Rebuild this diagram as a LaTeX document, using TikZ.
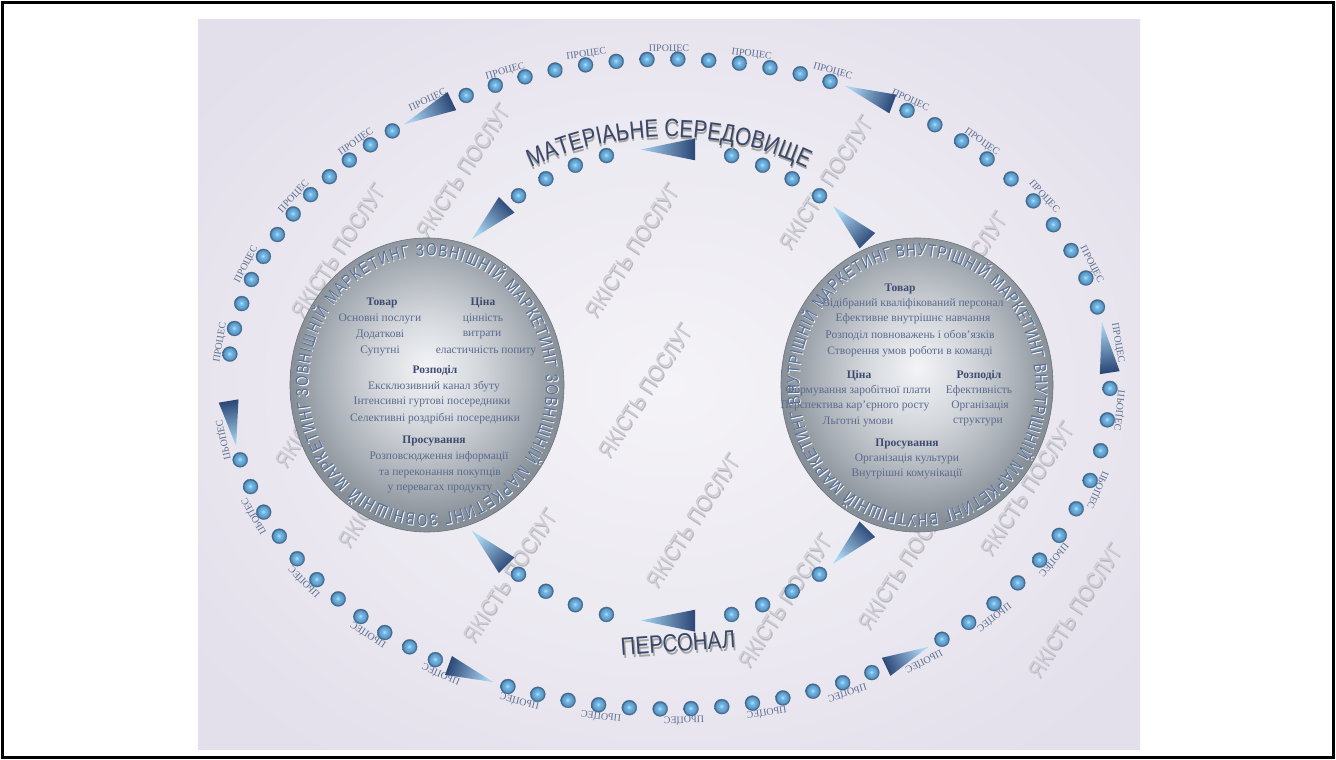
\documentclass[tikz,border=0pt]{standalone}
\usepackage{fontspec}
\setmainfont{Liberation Serif}
\newfontfamily\sansc{Liberation Sans}[FakeStretch=0.82]
\newfontfamily\sansr{Liberation Sans}[FakeStretch=0.78]
\newfontfamily\sansw{Liberation Sans}[FakeStretch=0.9]
\usetikzlibrary{calc,decorations.text,decorations.markings}

\definecolor{panelA}{HTML}{F4F3F7}
\definecolor{panelB}{HTML}{E3DFEB}
\definecolor{beadA}{HTML}{B2E2FA}
\definecolor{beadB}{HTML}{6DB3E2}
\definecolor{beadC}{HTML}{3C668F}
\definecolor{triL}{HTML}{A9D4F1}
\definecolor{triD}{HTML}{2A4675}
\definecolor{globeA}{HTML}{F3F4F6}
\definecolor{globeB}{HTML}{D2D6DB}
\definecolor{globeC}{HTML}{A8AEB5}
\definecolor{globeD}{HTML}{868E97}
\definecolor{ringc}{HTML}{57719A}
\definecolor{txtc}{HTML}{5A6A8E}
\definecolor{headc}{HTML}{3E4B70}
\definecolor{bigc}{HTML}{3A4868}
\definecolor{wmc}{HTML}{D0CFD6}
\definecolor{wms}{HTML}{B9B8C1}
\definecolor{procc}{HTML}{5E6F90}

\pgfdeclareradialshading{bead}{\pgfpoint{-2bp}{2bp}}{color(0bp)=(beadA); color(8bp)=(beadB); color(18bp)=(beadB!70!beadC); color(23bp)=(beadC); color(50bp)=(beadC)}
\pgfdeclareradialshading{globe}{\pgfpoint{0bp}{3bp}}{color(0bp)=(globeA); color(10bp)=(globeB); color(19bp)=(globeC); color(25bp)=(globeD); color(50bp)=(globeD)}
\pgfdeclareradialshading{panelsh}{\pgfpoint{0bp}{0bp}}{color(0bp)=(panelA); color(18bp)=(panelA!50!panelB); color(32bp)=(panelB); color(50bp)=(panelB)}

\tikzset{
  bead/.style={circle, minimum size=15pt, inner sep=0pt, shade, shading=bead, draw=beadC!70!gray, line width=0.3pt},
  proc/.style={font=\fontsize{10}{10}\selectfont, text=procc, inner sep=0pt, transform shape},
  wm/.style={font=\sansw\fontsize{22}{22}\selectfont, inner sep=0pt, rotate=57},
  ctext/.style={font=\fontsize{11.5}{12}\selectfont, text=txtc, inner sep=0pt},
  chead/.style={font=\bfseries\fontsize{11.5}{12}\selectfont, text=headc, inner sep=0pt},
  big/.style={font=\sansc\fontsize{25}{25}\selectfont, inner sep=0pt},
}

\newcommand\beadarc[4]{%
  \foreach \k in {1,...,#4}{%
    \pgfmathsetmacro\fr{(\k-0.5)/#4}%
    \path[decorate,decoration={markings,mark=at position \fr with {\node[bead] (#1\k) {};}}]
      ($(O)+(#2:441 and 325)$) arc[start angle=#2,end angle=#3,x radius=441,y radius=325];
  }}

\newcommand\wedgeon[7]{%
  \coordinate (#1t) at ($(#2)+(#5:#3 and #4)$);
  \coordinate (#1h) at ($(#2)+(#6:#3 and #4)$);
  \pgfmathsetmacro\wang{atan2(#4*(sin(#6)-sin(#5)), #3*(cos(#6)-cos(#5)))-90}
  \path[top color=triD, bottom color=triL, shading angle=\wang]
    (#1t) -- ($(#1h)!#7!90:(#1t)$) -- ($(#1h)!#7!-90:(#1t)$) -- cycle;
}

\begin{document}
\begin{tikzpicture}[x=1pt,y=1pt]
\useasboundingbox (0,0) rectangle (1336,760);
\fill[white] (0,0) rectangle (1336,760);
\shade[shading=panelsh] (198,10) rectangle (1140,740);
\draw[line width=2.5pt] (2.5,2.5) rectangle (1333.5,757.5);

\coordinate (O) at (669,376);
\coordinate (I) at (669,375);
\coordinate (CL) at (427,375);
\coordinate (CR) at (917,375);

% watermarks
\foreach \x/\y [count=\k] in {338/510,463/590,632/510,826/578,645/370,693/240,510/185,785/160,1027/272,385/280,960/482,905/198,1075/150,322/360}{
  \node[wm, text=wms] (wms\k) at (\x+1.2,\y-1.8) {ЯКІСТЬ ПОСЛУГ};
  \node[wm, text=wmc] (wm\k) at (\x,\y) {ЯКІСТЬ ПОСЛУГ};
}

% process labels
\foreach \k in {1,...,15}{
  \pgfmathsetmacro\fr{(\k-0.5)/15}
  \pgfmathsetmacro\fb{(\k-0.5)/15-0.012}
  \path[decorate,decoration={markings,mark=at position \fr with {\node[proc] (pt\k) {ПРОЦЕС};}}]
    ($(O)+(180:452 and 335)$) arc[start angle=180,end angle=0,x radius=452,y radius=335];
  \path[decorate,decoration={markings,mark=at position \fb with {\node[proc, yscale=-1] (pb\k) {ПРОЦЕС};}}]
    ($(O)+(0:453 and 337)$) arc[start angle=0,end angle=-180,x radius=453,y radius=337];
}

% outer ring of beads
\beadarc{oa}{119.5}{66.5}{13}
\beadarc{ob}{59.5}{11}{10}
\beadarc{oc}{2}{-54}{11}
\beadarc{od}{-60.5}{-113.5}{13}
\beadarc{oe}{-120}{-169}{11}
\beadarc{of}{177}{127}{12}

\wedgeon{wtl}{O}{441}{325}{127}{119.5}{10pt}
\wedgeon{wtr}{O}{441}{325}{66.5}{59.5}{10pt}
\wedgeon{wr}{O}{441}{325}{11}{2}{10pt}
\wedgeon{wbr}{O}{441}{325}{-54}{-60.5}{10pt}
\wedgeon{wbl}{O}{441}{325}{-113.5}{-120}{10pt}
\wedgeon{wl}{O}{441}{325}{-169}{-177}{10pt}

% inner path
\foreach \a [count=\k] in {127,119.5,112,104.5,75.5,68,60.5,53}
  \node[bead] (it\k) at ($(I)+(\a:250 and 237)$) {};
\foreach \a [count=\k] in {233,240.5,248,255.5,284.5,292,299.5,307}
  \node[bead] (ib\k) at ($(I)+(\a:250 and 237)$) {};
\wedgeon{itl}{I}{250}{237}{142}{130.5}{11pt}
\wedgeon{itm}{I}{250}{237}{96.5}{84}{11pt}
\wedgeon{itr}{I}{250}{237}{49}{37.5}{11pt}
\wedgeon{ibl}{I}{250}{237}{218}{229.5}{11pt}
\wedgeon{ibm}{I}{250}{237}{263.5}{276}{11pt}
\wedgeon{ibr}{I}{250}{237}{311}{322.5}{11pt}

% big labels
\path[decorate, decoration={text along path, text color=black!35,
  text={|\sansc\fontsize{25}{25}\selectfont|МАТЕРІАЬНЕ СЕРЕДОВИЩЕ}, text align=center}]
  ($(669.5,372.5)+(128:286 and 248)$) arc[start angle=128,end angle=52,x radius=286,y radius=248];
\path[decorate, decoration={text along path, text color=bigc,
  text={|\sansc\fontsize{25}{25}\selectfont|МАТЕРІАЬНЕ СЕРЕДОВИЩЕ}, text align=center}]
  ($(I)+(128:286 and 248)$) arc[start angle=128,end angle=52,x radius=286,y radius=248];
\node[big, text=black!35, rotate=4] (perss) at (679.5,114.5) {ПЕРСОНАЛ};
\node[big, text=bigc, rotate=4] (pers) at (678,117) {ПЕРСОНАЛ};

% globes
\path[shade, shading=globe, draw=globeD!80!black, line width=0.6pt] (CL) ellipse[x radius=137, y radius=147];
\path[shade, shading=globe, draw=globeD!80!black, line width=0.6pt] (CR) ellipse[x radius=136, y radius=147];

% ring texts
\foreach \dx/\dy/\col in {0.9/-0.9/white, 0/0/ringc}{
\path[decorate, decoration={text along path, text color=\col, text align=fit to path,
  text={|\sansr\fontsize{17.5}{18}\selectfont|ЗОВНІШНІЙ МАРКЕТИНГ ЗОВНІШНІЙ МАРКЕТИНГ ЗОВНІШНІЙ МАРКЕТИНГ ЗОВНІШНІЙ МАРКЕТИНГ{\ }}}]
  ($(CL)+(\dx,\dy)+(185:119 and 129)$) arc[start angle=185,end angle=-175,x radius=119,y radius=129];
\path[decorate, decoration={text along path, text color=\col, text align=fit to path,
  text={|\sansr\fontsize{17.5}{18}\selectfont|ВНУТРІШНІЙ МАРКЕТИНГ ВНУТРІШНІЙ МАРКЕТИНГ ВНУТРІШНІЙ МАРКЕТИНГ ВНУТРІШНІЙ МАРКЕТИНГ{\ }}}]
  ($(CR)+(\dx,\dy)+(100:118 and 129)$) arc[start angle=100,end angle=-260,x radius=118,y radius=129];
}

% left globe text
\node[chead] (l1) at (382,457) {Товар};
\node[chead] (l2) at (483,457) {Ціна};
\node[ctext] (l3) at (380,441) {Основні послуги};
\node[ctext] (l4) at (483,441) {цінність};
\node[ctext] (l5) at (380,425) {Додаткові};
\node[ctext] (l6) at (482,425) {витрати};
\node[ctext] (l7) at (380,409) {Супутні};
\node[ctext] (l8) at (486,409) {еластичність попиту};
\node[chead] (l9) at (435,389) {Розподіл};
\node[ctext] (l10) at (434,373) {Ексклюзивний канал збуту};
\node[ctext] (l11) at (432,358) {Інтенсивні гуртові посередники};
\node[ctext] (l12) at (435,341) {Селективні роздрібні посередники};
\node[chead] (l13) at (434,319) {Просування};
\node[ctext] (l14) at (439,303) {Розповсюдження інформації};
\node[ctext] (l15) at (440,287) {та переконання покупців};
\node[ctext] (l16) at (440,271) {у перевагах продукту};

% right globe text
\node[chead] (r1) at (900,471) {Товар};
\node[ctext] (r2) at (913,456) {Відібраний кваліфікований персонал};
\node[ctext] (r3) at (913,441) {Ефективне внутрішнє навчання};
\node[ctext] (r4) at (910,424) {Розподіл повноважень і обов'язків};
\node[ctext] (r5) at (910,408) {Створення умов роботи в команді};
\node[chead] (r6) at (859,384) {Ціна};
\node[chead] (r7) at (979,384) {Розподіл};
\node[ctext] (r8) at (858,369) {Формування заробітної плати};
\node[ctext] (r9) at (979,369) {Ефективність};
\node[ctext] (r10) at (855,354) {Перспектива кар'єрного росту};
\node[ctext] (r11) at (980,354) {Організація};
\node[ctext] (r12) at (858,338) {Льготні умови};
\node[ctext] (r13) at (978,338) {структури};
\node[chead] (r14) at (907,316) {Просування};
\node[ctext] (r15) at (907,301) {Організація культури};
\node[ctext] (r16) at (907,286) {Внутрішні комунікації};
\end{tikzpicture}
\end{document}
